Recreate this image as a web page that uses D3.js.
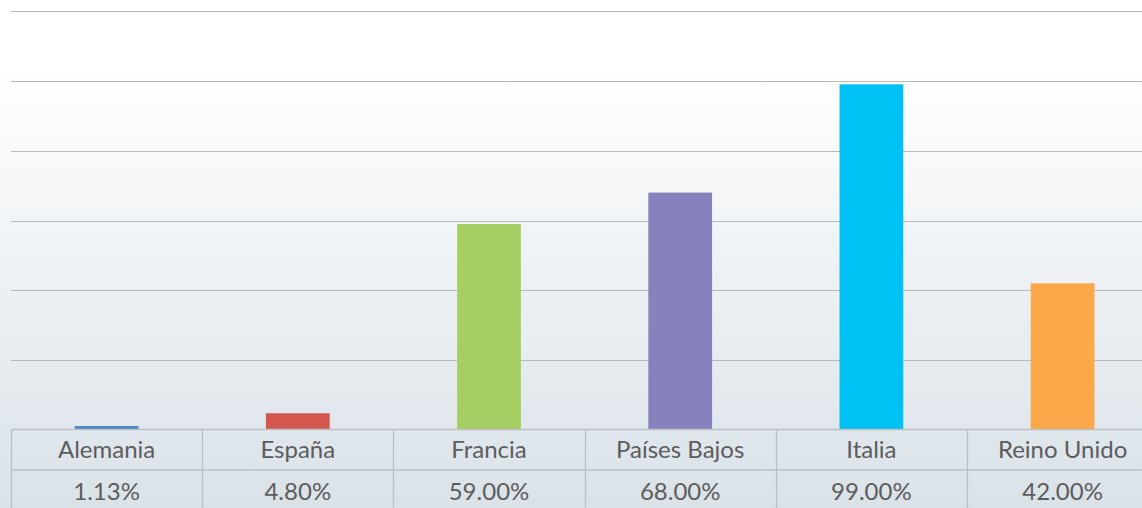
<!DOCTYPE html>
<html>
<head>
<meta charset="utf-8">
<script src="https://cdn.jsdelivr.net/npm/d3@7"></script>
<style>
html,body{margin:0;padding:0;background:#fff;overflow:hidden;}
svg{display:block;}
</style>
</head>
<body>
<svg id="chart" width="1142" height="508"></svg>
<script>
const categories = ["Alemania","España","Francia","Países Bajos","Italia","Reino Unido"];
const values = [1.13, 4.80, 59.00, 68.00, 99.00, 42.00];
const valueLabels = ["1.13%","4.80%","59.00%","68.00%","99.00%","42.00%"];
const colors = ["#4a86c9","#d4574f","#a6cf63","#8782bd","#00c1f4","#fba84b"];
const gridTicks = [20,40,60,80,100,120];

const W = 1142, H = 508;
const svg = d3.select("#chart");

const defs = svg.append("defs");
const grad = defs.append("linearGradient").attr("id","bg")
  .attr("x1",0).attr("y1",0).attr("x2",0).attr("y2",1);
grad.append("stop").attr("offset","0").attr("stop-color","#ffffff");
grad.append("stop").attr("offset","0.13").attr("stop-color","#ffffff");
grad.append("stop").attr("offset","1").attr("stop-color","#dae2e8");
svg.append("rect").attr("width",W).attr("height",H).attr("fill","url(#bg)");

const plotLeft = 11, plotRight = 1158.2, plotBase = 430, plotTop = 11;
const x = d3.scaleBand().domain(categories).range([plotLeft, plotRight]).padding(0);
const y = d3.scaleLinear().domain([0,120]).range([plotBase, plotTop]);

// gridlines
svg.append("g").selectAll("line").data(gridTicks).join("line")
  .attr("x1", plotLeft).attr("x2", W)
  .attr("y1", d => Math.round(y(d)) + 0.5).attr("y2", d => Math.round(y(d)) + 0.5)
  .attr("stroke", "#b6b8ba").attr("stroke-width", 1.2);

// bars
const bw = x.bandwidth() / 3;
svg.append("g").selectAll("rect").data(values).join("rect")
  .attr("x", (d,i) => x(categories[i]) + x.bandwidth()/2 - bw/2)
  .attr("width", bw)
  .attr("y", d => y(d))
  .attr("height", d => plotBase - y(d))
  .attr("fill", (d,i) => colors[i]);

// data table
const rowDiv = 470;
const tg = svg.append("g");
const lineColor = "#bcbfc2";
tg.append("line").attr("x1", plotLeft).attr("x2", W).attr("y1", plotBase - 0.5).attr("y2", plotBase - 0.5)
  .attr("stroke", lineColor).attr("stroke-width", 1.3);
tg.append("line").attr("x1", plotLeft).attr("x2", W).attr("y1", rowDiv).attr("y2", rowDiv)
  .attr("stroke", lineColor).attr("stroke-width", 1.3);
const bounds = categories.map(c => x(c));
tg.selectAll("line.v").data(bounds).join("line").attr("class","v")
  .attr("x1", d => Math.round(d) + 0.5).attr("x2", d => Math.round(d) + 0.5)
  .attr("y1", plotBase - 1).attr("y2", H)
  .attr("stroke", lineColor).attr("stroke-width", 1.3);

const font = "Lato, 'Open Sans', sans-serif";
tg.selectAll("text.cat").data(categories).join("text").attr("class","cat")
  .attr("x", d => x(d) + x.bandwidth()/2)
  .attr("y", 457.5)
  .attr("text-anchor","middle")
  .attr("font-family", font).attr("font-size", 24)
  .attr("fill", "#5c5c5c")
  .text(d => d);
tg.selectAll("text.val").data(valueLabels).join("text").attr("class","val")
  .attr("x", (d,i) => x(categories[i]) + x.bandwidth()/2)
  .attr("y", 500)
  .attr("text-anchor","middle")
  .attr("font-family", font).attr("font-size", 24)
  .attr("fill", "#5c5c5c")
  .text(d => d);
</script>
</body>
</html>
